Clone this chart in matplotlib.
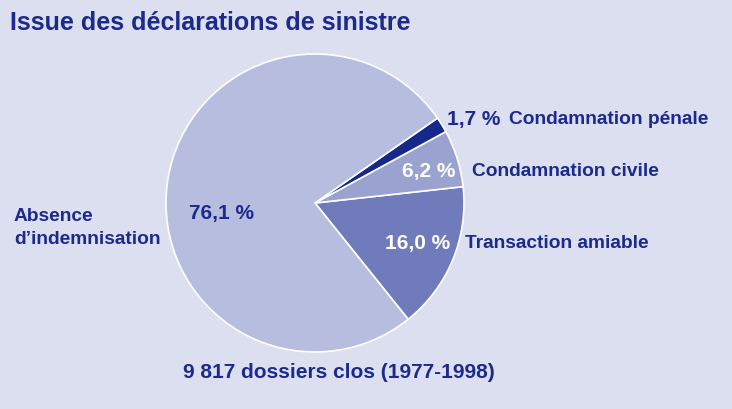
import matplotlib
matplotlib.use("Agg")
import matplotlib.pyplot as plt

# data
categories = ["Transaction amiable", "Condamnation civile", "Condamnation pénale", "Absence\nd\u2019indemnisation"]
shares = [16.0, 6.2, 1.7, 76.1]
share_labels = ["16,0 %", "6,2 %", "1,7 %", "76,1 %"]
colors = ["#6f7bbb", "#9aa2d0", "#16288a", "#b7bddf"]

title = "Issue des déclarations de sinistre"
footnote = "9 817 dossiers clos (1977-1998)"

bg = "#dcdff0"
ink = "#1b2a8c"
W, H = 732, 409


def fx(px):
    return px / W


def fy(py):
    return 1 - py / H


fig = plt.figure(figsize=(7.32, 4.09), dpi=100, facecolor=bg)

# pie centred at (315, 203) px with radius 149 px
cx, cy, r = 315, 203, 149
ax = fig.add_axes([fx(cx - r), fy(cy + r), 2 * r / W, 2 * r / H])
ax.set_facecolor(bg)
ax.pie(shares, colors=colors, startangle=-51.3, counterclock=True,
       wedgeprops=dict(edgecolor="white", linewidth=1.2))
ax.set_xlim(-1, 1)
ax.set_ylim(-1, 1)
ax.axis("off")

font = ["Liberation Sans", "DejaVu Sans"]

fig.text(fx(10), fy(23), title, fontsize=18, fontweight="bold", color=ink,
         family=font, va="center", ha="left")

name_kw = dict(fontsize=13.8, fontweight="bold", va="center", family=font)
pct_kw = dict(fontsize=15, fontweight="bold", va="center", family=font)

# percentages
fig.text(fx(450), fy(244), share_labels[0], ha="right", color="white", **pct_kw)
fig.text(fx(455), fy(172), share_labels[1], ha="right", color="white", **pct_kw)
fig.text(fx(447), fy(119), share_labels[2], ha="left", color=ink, **pct_kw)
fig.text(fx(189), fy(213), share_labels[3], ha="left", color=ink, **pct_kw)

# category names
fig.text(fx(465), fy(244), categories[0], ha="left", color=ink, **name_kw)
fig.text(fx(472), fy(172), categories[1], ha="left", color=ink, **name_kw)
fig.text(fx(509), fy(119), categories[2], ha="left", color=ink, **name_kw)
fig.text(fx(14), fy(228), categories[3], ha="left", color=ink,
         linespacing=1.45, **name_kw)

fig.text(fx(339), fy(372), footnote, ha="center", color=ink, **pct_kw)

plt.savefig("out.png", dpi=100, facecolor=bg)
